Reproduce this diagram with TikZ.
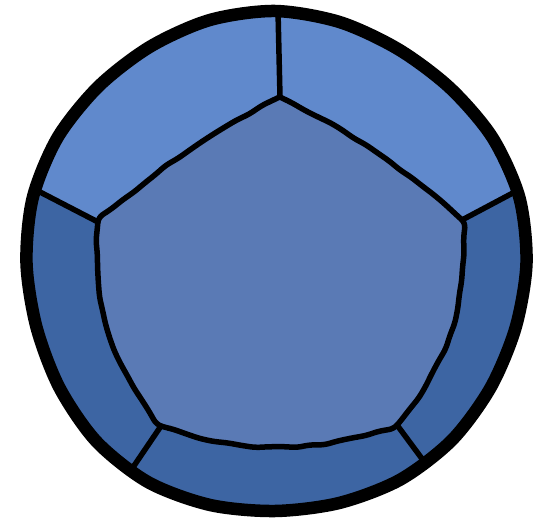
\documentclass[tikz,border=0pt]{standalone}
\usetikzlibrary{calc, decorations.pathmorphing}
\definecolor{rimlight}{HTML}{6089CC}
\definecolor{rimdark}{HTML}{3D65A3}
\definecolor{facemid}{HTML}{5A7AB5}

\begin{document}
\begin{tikzpicture}[
    x=1pt, y=1pt,
    % Styles
    outline/.style={
        draw=black,
        line width=12.5pt,
        line join=round
    },
    seam/.style={
        draw=black,
        line width=5.5pt,
        line join=round,
        line cap=round
    },
    wobbly/.style={
        decorate,
        decoration={random steps, segment length=14pt, amplitude=1pt},
        rounded corners=5pt
    }
]
    \pgfmathsetseed{7}
    \useasboundingbox (0,0) rectangle (536,520);

    % ================= CORNERS =================
    \coordinate (c) at (275,257);
    \coordinate (top) at (280,423);
    \coordinate (upright) at (462,300);
    \coordinate (lowright) at (397,95);
    \coordinate (lowleft) at (161,94);
    \coordinate (upleft) at (98,298);

    % outer ends of the seams
    \coordinate (rimtop) at ($(c)+(89.3:250)$);
    \coordinate (rimright) at ($(c)+(16.5:250)$);
    \coordinate (rimlowright) at ($(c)+(-53.1:250)$);
    \coordinate (rimlowleft) at ($(c)+(-124.8:250)$);
    \coordinate (rimleft) at ($(c)+(163:250)$);

    % ================= FILLS =================
    % dark rim
    \fill[rimdark] plot[smooth cycle, domain=0:345, samples=24]
        ({275+(250+2*sin(5*\x)+1.5*cos(3*\x))*cos(\x)},
         {257+(250+2*sin(5*\x)+1.5*cos(3*\x))*sin(\x)});

    % light upper rim
    \fill[rimlight] (rimleft) arc[start angle=163, end angle=16.5, radius=250]
        -- (upright) -- (top) -- (upleft) -- cycle;

    % face
    \fill[facemid] (top) to[bend left=7] (upright)
        to[bend left=21] (lowright) to[bend left=18] (lowleft)
        to[bend left=21] (upleft) to[bend left=7] cycle;

    % ================= LINES =================
    \draw[seam] (top) -- (rimtop);
    \draw[seam] (upright) -- (rimright);
    \draw[seam] (lowright) -- (rimlowright);
    \draw[seam] (lowleft) -- (rimlowleft);
    \draw[seam] (upleft) -- (rimleft);

    \draw[seam, wobbly] (top) to[bend left=7] (upright)
        to[bend left=21] (lowright) to[bend left=18] (lowleft)
        to[bend left=21] (upleft) to[bend left=7] (top);

    \draw[outline] plot[smooth cycle, domain=0:345, samples=24]
        ({275+(250+2*sin(5*\x)+1.5*cos(3*\x))*cos(\x)},
         {257+(250+2*sin(5*\x)+1.5*cos(3*\x))*sin(\x)});

\end{tikzpicture}
\end{document}
